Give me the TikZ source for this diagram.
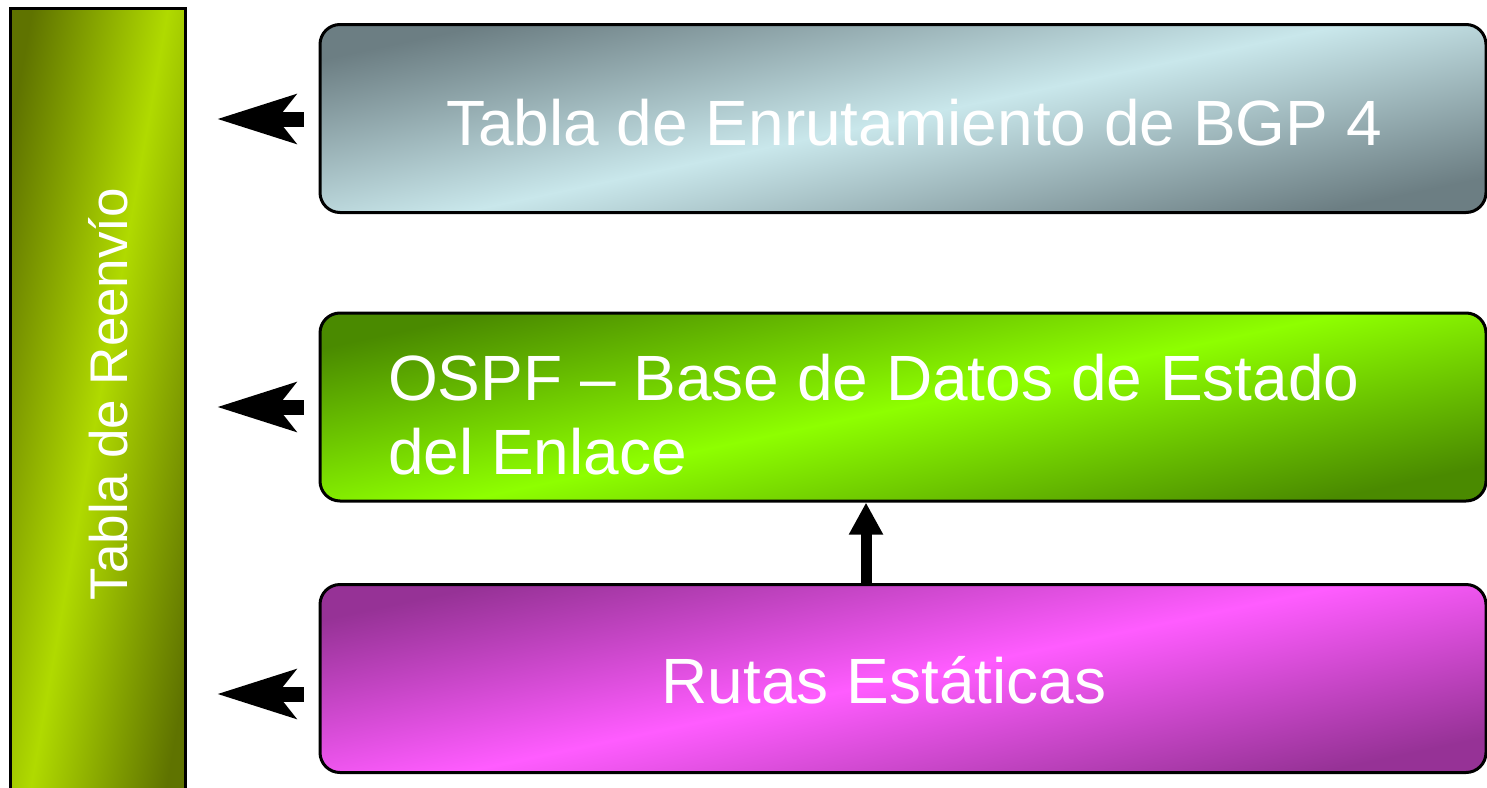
\documentclass[tikz,border=0pt]{standalone}
\usepackage{fontspec}
\setmainfont{Liberation Sans}
\usetikzlibrary{arrows.meta}
\definecolor{bardark}{HTML}{5F7300}
\definecolor{barlight}{HTML}{B0DA00}
\definecolor{graydark}{HTML}{6C7E83}
\definecolor{graylight}{HTML}{C9E7EB}
\definecolor{greendark}{HTML}{4A8A00}
\definecolor{greenlight}{HTML}{8EFF00}
\definecolor{magdark}{HTML}{963296}
\definecolor{maglight}{HTML}{FF5CFF}
\pgfdeclarehorizontalshading{shinebar}{100bp}{color(0bp)=(bardark); color(25bp)=(bardark); color(50bp)=(barlight); color(75bp)=(bardark); color(100bp)=(bardark)}
\pgfdeclarehorizontalshading{shinegray}{100bp}{color(0bp)=(graydark); color(25bp)=(graydark); color(50bp)=(graylight); color(75bp)=(graydark); color(100bp)=(graydark)}
\pgfdeclarehorizontalshading{shinegreen}{100bp}{color(0bp)=(greendark); color(25bp)=(greendark); color(50bp)=(greenlight); color(75bp)=(greendark); color(100bp)=(greendark)}
\pgfdeclarehorizontalshading{shinemag}{100bp}{color(0bp)=(magdark); color(25bp)=(magdark); color(50bp)=(maglight); color(75bp)=(magdark); color(100bp)=(magdark)}
\tikzset{
  box/.style={draw=black, line width=3pt, rounded corners=20pt, minimum width=1166pt, minimum height=188pt, inner sep=0pt, text=white, font=\fontsize{64}{74}\selectfont, shading angle=-78},
  harrow/.style={line width=15pt, -{Stealth[length=78pt, width=48pt, inset=18pt]}},
  varrow/.style={line width=11pt, -{Triangle[length=32pt, width=32pt]}}
}
\begin{document}
\begin{tikzpicture}[x=1pt,y=-1pt]
\useasboundingbox (0,0) rectangle (1487,787);
\node[draw=black, line width=3pt, minimum width=175pt, minimum height=800pt, inner sep=0pt, shading=shinebar, shading angle=-10] (bar) at (97.5,408) {};
\node[text=white, rotate=90, font=\fontsize{53}{60}\selectfont] (bart) at (108,394) {Tabla de Reenvío};
\node[box, shading=shinegray] (bgp) at (903,118.5) {};
\node[text=white, font=\fontsize{64}{74}\selectfont, anchor=base] (bgpt) at (914,145) {Tabla de Enrutamiento de BGP 4};
\node[box, shading=shinegreen] (ospf) at (903,407) {};
\node[text=white, font=\fontsize{64}{74}\selectfont, align=left, anchor=base west, inner sep=0pt] (ospft) at (388,474) {OSPF – Base de Datos de Estado\\del Enlace};
\node[box, shading=shinemag] (rs) at (903,678.5) {};
\node[text=white, font=\fontsize{64}{74}\selectfont, anchor=base] (rst) at (884,703) {Rutas Estáticas};
\coordinate (bgpend) at (217,119);
\coordinate (ospfend) at (217,407);
\coordinate (rsend) at (217,694);
\draw[harrow] ([xshift=-15pt]bgp.west |- bgpend) -- (bgpend);
\draw[harrow] ([xshift=-15pt]ospf.west |- ospfend) -- (ospfend);
\draw[harrow] ([xshift=-15pt]rs.west |- rsend) -- (rsend);
\coordinate (vx) at (866,0);
\draw[varrow] (rs.north -| vx) -- (ospf.south -| vx);
\end{tikzpicture}
\end{document}
